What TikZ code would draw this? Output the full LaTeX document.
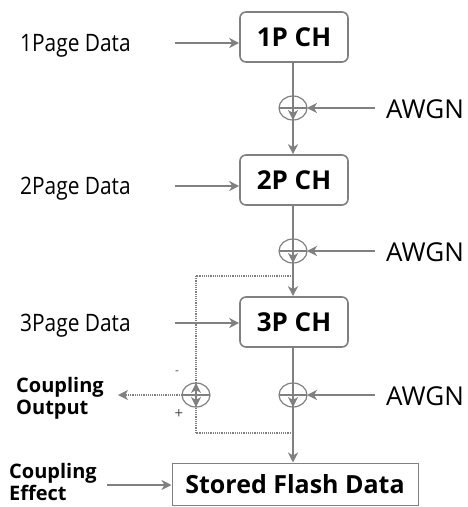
\documentclass[tikz,border=0pt]{standalone}
\usepackage{fontspec}
\usepackage{graphicx}
\setmainfont{Open Sans}
\usetikzlibrary{arrows.meta}
\definecolor{ln}{gray}{0.5}
\newcommand{\narrowtext}[1]{\scalebox{0.87}[1]{#1}}
\tikzset{
  chbox/.style={draw=ln, line width=1.6pt, rounded corners=6pt, minimum width=108pt,
    minimum height=50pt, font=\fontsize{26}{28}\selectfont\bfseries, inner sep=0pt},
  flow/.style={draw=ln, line width=1.6pt, -{Stealth[length=10pt,width=10pt,inset=3pt]}},
  dflow/.style={draw=ln, line width=1.2pt, densely dotted, -{Stealth[length=10pt,width=10pt,inset=3pt]}},
  dline/.style={draw=ln, line width=1.2pt, densely dotted},
  lbl/.style={font=\fontsize{24}{26}\selectfont, inner sep=0pt},
  nlbl/.style={font=\fontsize{26}{28}\selectfont, inner sep=0pt},
  blbl/.style={font=\fontsize{20}{21.5}\selectfont\bfseries, inner sep=0pt, align=left},
  sign/.style={text=black!70, inner sep=0pt},
}
\begin{document}
\begin{tikzpicture}[x=1pt,y=-1pt]
\useasboundingbox (0,0) rectangle (467,507);
% channel boxes
\node[chbox] (ch1) at (294,37) {1P CH};
\node[chbox] (ch2) at (294,180) {2P CH};
\node[chbox] (ch3) at (294,322) {3P CH};
\node[draw=ln, line width=1pt, minimum width=246pt, minimum height=42pt, inner sep=0pt,
  font=\fontsize{25}{27}\selectfont\bfseries] (fl) at (295,484) {Stored Flash Data};
% adders: ellipse with a cross
\foreach \n/\x/\y in {s1/293/108, s2/293/251, s3/293/395, sc/196/395}{
  \coordinate (\n) at (\x,\y);
  \draw[ln, line width=1.2pt] (\n) ellipse [x radius=14pt, y radius=12pt];
  \draw[ln, line width=1.2pt] ([xshift=-14pt]\n) -- ([xshift=14pt]\n);
  \draw[ln, line width=1.2pt] ([yshift=-12pt]\n) -- ([yshift=12pt]\n);
  \coordinate (\n-n) at ([yshift=-12pt]\n);
  \coordinate (\n-s) at ([yshift=12pt]\n);
  \coordinate (\n-e) at ([xshift=14pt]\n);
  \coordinate (\n-w) at ([xshift=-14pt]\n);
}
% page inputs
\node[lbl, anchor=base west] (p1) at (20,51) {\narrowtext{1Page Data}};
\node[lbl, anchor=base west] (p2) at (20,194) {\narrowtext{2Page Data}};
\node[lbl, anchor=base west] (p3) at (20,331) {\narrowtext{3Page Data}};
\coordinate (p1e) at (175,43);
\coordinate (p2e) at (175,186);
\coordinate (p3e) at (175,323);
\draw[flow] (p1e) -- (ch1.west |- p1e);
\draw[flow] (p2e) -- (ch2.west |- p2e);
\draw[flow] (p3e) -- (ch3.west |- p3e);
% noise inputs
\node[nlbl, anchor=base west] (a1) at (386,118) {AWGN};
\node[nlbl, anchor=base west] (a2) at (386,261) {AWGN};
\node[nlbl, anchor=base west] (a3) at (386,405) {AWGN};
\coordinate (a1w) at (375,108);
\coordinate (a2w) at (375,251);
\coordinate (a3w) at (375,395);
\draw[flow] (a1w) -- (s1-e);
\draw[flow] (a2w) -- (s2-e);
\draw[flow] (a3w) -- (s3-e);
% main chain
\draw[flow] (ch1.south -| s1) -- (s1-n);
\draw[flow] (s1-s) -- (ch2.north -| s1);
\draw[flow] (ch2.south -| s2) -- (s2-n);
\draw[flow] (s2-s) -- (ch3.north -| s2);
\draw[flow] (ch3.south -| s3) -- (s3-n);
\draw[flow] (s3-s) -- (fl.north -| s3);
% coupling estimate
\coordinate (tapA) at (293,276);
\coordinate (tapB) at (293,433);
\draw[dline] (tapA) -- (tapA -| sc);
\draw[dflow] (tapA -| sc) -- (sc-n);
\draw[dline] (tapB) -- (tapB -| sc);
\draw[dflow] (tapB -| sc) -- (sc-s);
\node[sign, font=\fontsize{12}{12}\selectfont] (minus) at (177,373) {-};
\node[sign, font=\fontsize{15}{15}\selectfont] (plus) at (179,414) {+};
\node[blbl, anchor=base west] (co) at (16,414) {Coupling\\Output};
\coordinate (coe) at (118,395);
\draw[dflow] (sc-w) -- (coe);
% coupling effect
\node[blbl, anchor=base west] (ce) at (9,500) {Coupling\\Effect};
\coordinate (cee) at (107,485);
\draw[flow] (cee) -- (fl.west |- cee);
\end{tikzpicture}
\end{document}
